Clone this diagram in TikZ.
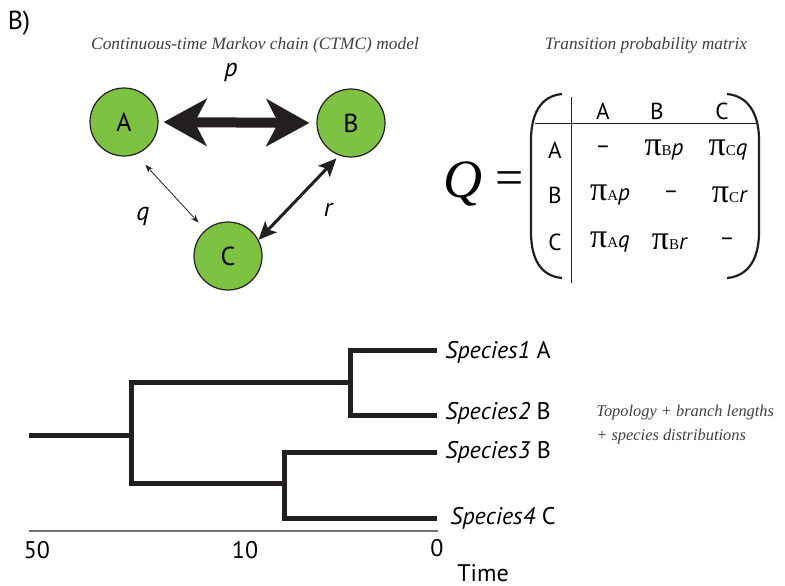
\documentclass[tikz,border=0pt]{standalone}
\usepackage{fontspec}
\setmainfont{PT Sans}
\newfontfamily\grk{Liberation Serif}
\usetikzlibrary{arrows.meta}
\definecolor{stategreen}{RGB}{125,194,66}
\definecolor{ink}{RGB}{35,31,32}
\tikzset{state/.style={circle,draw=ink,line width=0.6pt,fill=stategreen,minimum size=34pt,inner sep=0pt,font=\fontsize{13}{14}\selectfont}}
\tikzset{caption/.style={font=\grk\itshape\fontsize{8.7}{12}\selectfont,text=black!75}}
\tikzset{branch/.style={line width=2.5pt,draw=ink}}
\tikzset{entry/.style={font=\fontsize{11.6}{12}\selectfont}}
\tikzset{leaf/.style={anchor=west,inner sep=0pt,font=\fontsize{12}{13}\selectfont}}
\newcommand{\rate}[2]{{\grk\fontsize{17}{17}\selectfont π}{\grk\fontsize{7.5}{8}\selectfont #1}\textit{#2}}

\begin{document}
\begin{tikzpicture}[x=0.5pt,y=-0.5pt,font=\fontsize{12}{13}\selectfont]
      \useasboundingbox (0,0) rectangle (785,585);
      \node (panel) at (19,23) {\fontsize{13}{14}\selectfont B)};
      \node[caption] (ctmc) at (255,45) {Continuous-time Markov chain (CTMC) model};
      \node[caption] (tpm) at (646,45) {Transition probability matrix};
      % states
      \node[state] (A) at (124,122) {A};
      \node[state] (B) at (351,123) {B};
      \node[state] (C) at (228,256) {C};
      \node[font=\fontsize{13}{14}\selectfont\itshape] (p) at (231,72) {p};
      \node[font=\fontsize{13}{14}\selectfont\itshape] (q) at (143,216) {q};
      \node[font=\fontsize{13}{14}\selectfont\itshape] (r) at (328,210) {r};
      \draw[ink,line width=5pt,{Stealth[length=21.5pt,width=23.5pt,inset=6pt]}-{Stealth[length=21.5pt,width=23.5pt,inset=6pt]},shorten <=2.5pt,shorten >=3.5pt] (A.east) -- (B.west);
      \draw[ink,line width=1.5pt,{Stealth[length=9pt,width=8pt,inset=2pt]}-{Stealth[length=9pt,width=8pt,inset=2pt]},shorten <=2pt] (B.-110) -- (C.28);
      \draw[ink,line width=0.4pt,{Stealth[length=4pt,width=3pt]}-{Stealth[length=4pt,width=3pt]},shorten <=7pt,shorten >=5pt] (A.-70) -- (C.131);
      % matrix
      \node[font=\grk\itshape\fontsize{27}{28}\selectfont] (Q) at (463,184) {Q};
      \node[font=\grk\fontsize{25}{26}\selectfont] (eq) at (510,183) {=};
      \draw[ink,line width=1.1pt] (562,94) .. controls (540,96) and (531,115) .. (531,140) -- (531,232) .. controls (531,258) and (540,276) .. (562,278);
      \draw[ink,line width=1.1pt] (727,94) .. controls (749,96) and (759,115) .. (759,140) -- (759,232) .. controls (759,258) and (749,276) .. (727,278);
      \draw[ink,line width=0.5pt] (571,97) -- (571,283);
      \draw[ink,line width=0.5pt] (535,123) -- (758,123);
      \foreach \c/\x in {A/603,B/657,C/722}
        \node[entry] (h\c) at (\x,111) {\c};
      \foreach \c/\y in {A/150,B/195,C/242}
        \node[entry] (r\c) at (555,\y) {\c};
      \node[entry] (AA) at (603,150) {--};
      \node[entry] (AB) at (664,150) {\rate{B}{p}};
      \node[entry] (AC) at (728,150) {\rate{C}{q}};
      \node[entry] (BA) at (610,195) {\rate{A}{p}};
      \node[entry] (BB) at (671,195) {--};
      \node[entry] (BC) at (730,195) {\rate{C}{r}};
      \node[entry] (CA) at (610,242) {\rate{A}{q}};
      \node[entry] (CB) at (670,242) {\rate{B}{r}};
      \node[entry] (CC) at (727,242) {--};
      % tree
      \coordinate (root) at (29,435);
      \coordinate (n0) at (131,435);
      \coordinate (n1) at (350,382);
      \coordinate (n2) at (284,483);
      \coordinate (l1) at (437,350);
      \coordinate (l2) at (437,415);
      \coordinate (l3) at (437,452);
      \coordinate (l4) at (437,518);
      \draw[branch] (l1) -| (n1) |- (l2);
      \draw[branch] (l3) -| (n2) |- (l4);
      \draw[branch] (n1) -| (n0) |- (n2);
      \draw[branch] (root) -- (n0);
      \node[leaf] (s1) at (445,352) {\textit{Species1} A};
      \node[leaf] (s2) at (445,413) {\textit{Species2} B};
      \node[leaf] (s3) at (445,452) {\textit{Species3} B};
      \node[leaf] (s4) at (450,518) {\textit{Species4} C};
      \node[caption,font=\grk\itshape\fontsize{8.2}{12}\selectfont,anchor=west,align=left,inner sep=0pt] (info) at (596,425) {Topology + branch lengths\\ + species distributions};
      % time axis
      \coordinate (t50) at (29,531);
      \coordinate (t0) at (438,531);
      \draw[black!55,line width=1pt] (t50) -- (t0);
      \node (lab50) at (37,550) {50};
      \node (lab10) at (245,550) {10};
      \node (lab0) at (437,548) {0};
      \node (time) at (483,573) {Time};
\end{tikzpicture}
\end{document}
